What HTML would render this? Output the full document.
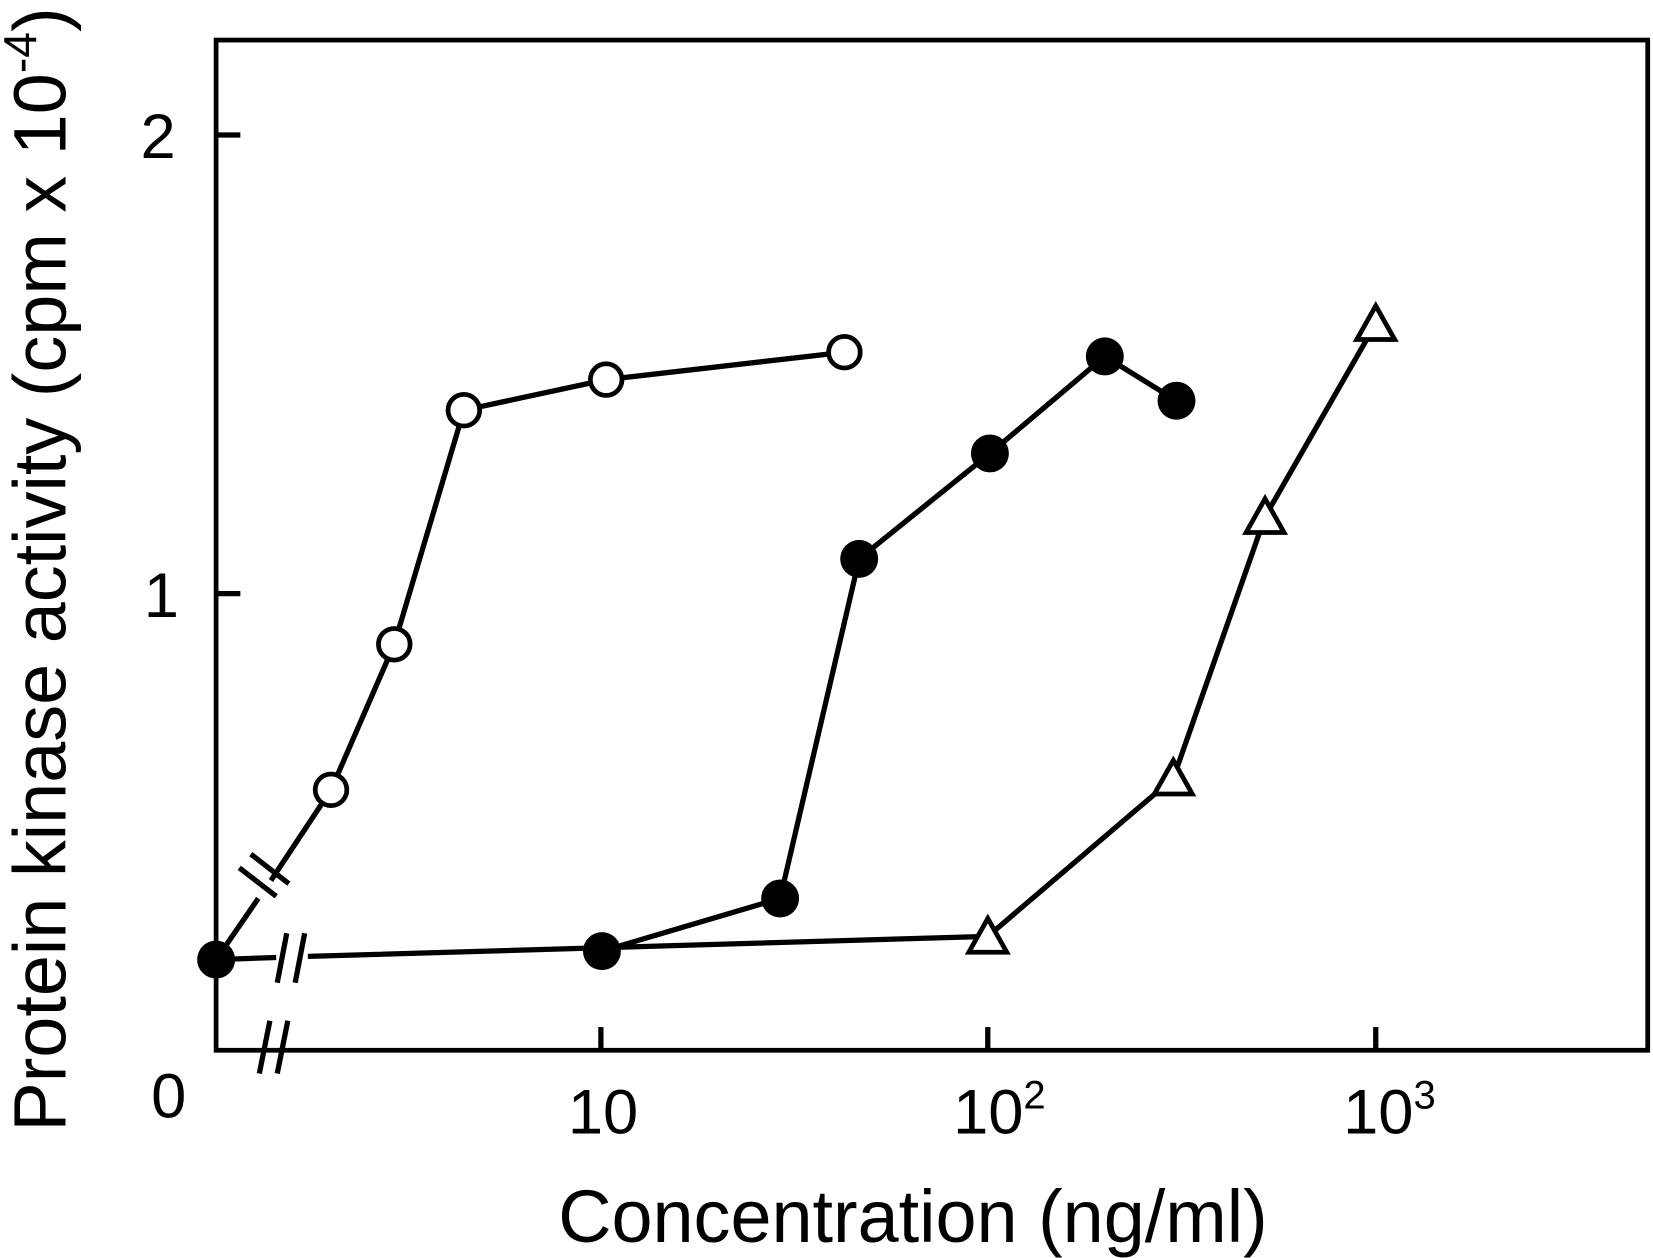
<!DOCTYPE html>
<html><head><style>html,body{margin:0;padding:0;background:#fff}svg{display:block}</style></head>
<body>
<svg width="1653" height="1258" viewBox="0 0 1568 1193" preserveAspectRatio="none" xmlns="http://www.w3.org/2000/svg" font-family="Liberation Sans, sans-serif">
<rect x="205" y="38" width="1358" height="958" fill="none" stroke="#000" stroke-width="4.5"/>
<g stroke="#000" stroke-width="5" fill="none">
<line x1="205" y1="128" x2="228" y2="128"/><line x1="205" y1="563" x2="228" y2="563"/>
<line x1="570" y1="996" x2="570" y2="974"/><line x1="937" y1="996" x2="937" y2="974"/><line x1="1305" y1="996" x2="1305" y2="974"/>
<polyline points="205,910 245,852"/>
<polyline points="257,835 314,749 374,611 440,389 575,360 801,334"/>
<polyline points="205,910 262,908"/>
<polyline points="292,907 937,888 1113,738 1200,490 1305,307"/>
<polyline points="571,902 740,852 815,530 939,430 1048,338 1116,380"/>
<line x1="227" y1="823" x2="262" y2="850"/><line x1="238" y1="810" x2="274" y2="838"/>
<line x1="272" y1="885" x2="263" y2="932"/><line x1="289" y1="885" x2="280" y2="932"/>
<line x1="256" y1="968" x2="246" y2="1018"/><line x1="273" y1="968" x2="263" y2="1018"/>
</g>
<g stroke="#000" stroke-width="4.5" fill="#fff">
<circle cx="314" cy="749" r="15"/><circle cx="374" cy="611" r="15"/><circle cx="440" cy="389" r="15"/><circle cx="575" cy="360" r="15"/><circle cx="801" cy="334" r="15"/>
<polygon points="937,871 955,903 919,903"/><polygon points="1113,721 1131,753 1095,753"/><polygon points="1200,473 1218,505 1182,505"/><polygon points="1305,290 1323,322 1287,322"/>
</g>
<g fill="#000">
<circle cx="205" cy="910" r="18"/><circle cx="571" cy="902" r="18"/><circle cx="740" cy="852" r="18"/><circle cx="815" cy="530" r="18"/><circle cx="939" cy="430" r="18"/><circle cx="1048" cy="338" r="18"/><circle cx="1116" cy="380" r="18"/>
</g>
<g font-size="60" text-anchor="middle">
<text x="150" y="150">2</text><text x="153" y="585">1</text><text x="160" y="1060">0</text>
<text x="572" y="1075">10</text>
<text x="948" y="1075">10<tspan font-size="38" dy="-24">2</tspan></text>
<text x="1318" y="1075">10<tspan font-size="38" dy="-24">3</tspan></text>
</g>
<text x="866" y="1178" font-size="70" text-anchor="middle">Concentration (ng/ml)</text>
<text transform="translate(62,540) rotate(-90)" font-size="70" text-anchor="middle">Protein kinase activity (cpm x 10<tspan font-size="44" dy="-28">-4</tspan><tspan dy="28">)</tspan></text>
</svg>
</body></html>
